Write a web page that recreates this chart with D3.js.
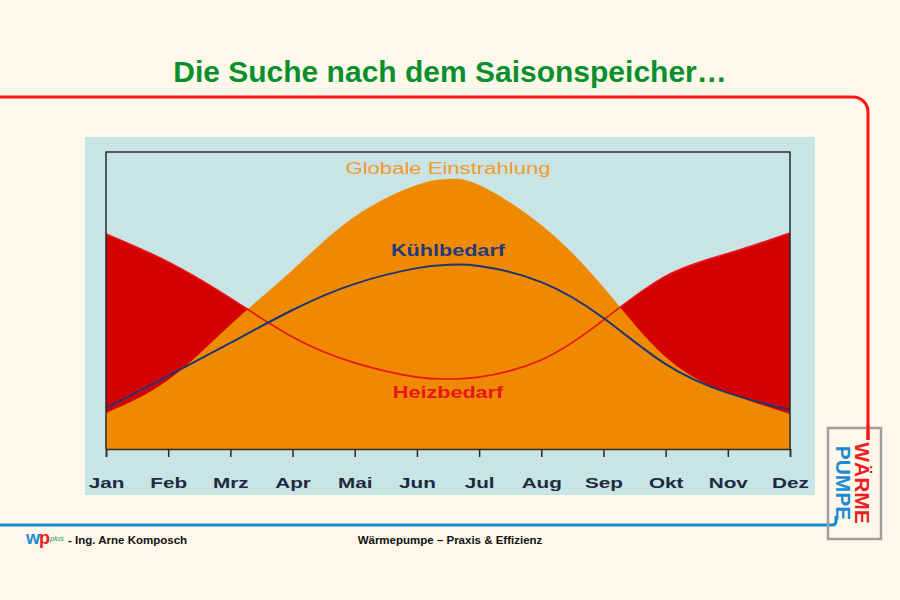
<!DOCTYPE html>
<html><head><meta charset="utf-8">
<script src="https://cdn.jsdelivr.net/npm/d3@7"></script>
<style>html,body{margin:0;padding:0;background:#fdf8ea;}svg{display:block;}</style>
</head><body>
<script>
// ---- data ----
const monthLabels = ["Jan","Feb","Mrz","Apr","Mai","Jun","Jul","Aug","Sep","Okt","Nov","Dez"];
// x positions (month index), incl. mid-June/July extremum point
const xPos        = [0, 1, 2, 3, 4, 5, 5.5, 6, 7, 8, 9, 10, 11];
const einstrahlung = [12.1, 23.2, 41.8, 60.3, 78.3, 88.9, 90.9, 88.9, 75.4, 54.5, 31.0, 18.9, 11.8];
const heizbedarf   = [72.4, 63.0, 50.8, 37.7, 29.0, 24.2, 23.6, 24.2, 30.0, 43.4, 58.2, 65.8, 72.7];
const kuehlbedarf  = [13.8, 24.6, 35.7, 46.8, 55.6, 60.9, 62.0, 61.6, 56.2, 44.1, 28.6, 18.9, 13.1];
const seriesLabels = ["Globale Einstrahlung","Kühlbedarf","Heizbedarf"];
const title = "Die Suche nach dem Saisonspeicher…";

const W = 900, H = 600;
const FONT = "Liberation Sans, Arial, sans-serif";
const svg = d3.select("body").append("svg").attr("width", W).attr("height", H);
svg.append("rect").attr("width", W).attr("height", H).attr("fill", "#fdf8ea");

// title
svg.append("text").attr("x", 450).attr("y", 82).attr("text-anchor", "middle")
  .attr("font-family", FONT).attr("font-weight", "bold")
  .attr("font-size", 30).attr("fill", "#0b8f2d").text(title);

// red frame line
svg.append("path").attr("d", "M0,97 H853 A15,15 0 0 1 868,112 V440")
  .attr("fill", "none").attr("stroke", "#ff1414").attr("stroke-width", 3);

// panel
svg.append("rect").attr("x", 85).attr("y", 137).attr("width", 730).attr("height", 358).attr("fill", "#c9e4e4");

// faint watermark
svg.append("text").attr("x", 18).attr("y", 373).attr("font-family", FONT)
  .attr("font-size", 8).attr("fill", "#ffffff").attr("opacity", 0.8).text("www.kmv.at");

const x = d3.scaleLinear().domain([0, 11]).range([106, 790]);
const y = d3.scaleLinear().domain([0, 100]).range([449, 152]);
const pts = s => xPos.map((v, i) => [v, s[i]]);
const curve = d3.curveNatural;

const area = d3.area().x(d => x(d[0])).y0(y(0)).y1(d => y(d[1])).curve(curve);
const line = d3.line().x(d => x(d[0])).y(d => y(d[1])).curve(curve);

svg.append("path").attr("d", area(pts(heizbedarf))).attr("fill", "#d50000");
svg.append("path").attr("d", area(pts(einstrahlung))).attr("fill", "#ef8a00");
svg.append("path").attr("d", line(pts(heizbedarf))).attr("fill", "none").attr("stroke", "#e8161a").attr("stroke-width", 1.6);
svg.append("path").attr("d", line(pts(kuehlbedarf))).attr("fill", "none").attr("stroke", "#1f3572").attr("stroke-width", 2);

// frame
svg.append("path").attr("d", `M${x(0)},${y(0)} V${y(100)} H${x(11)} V${y(0)}`)
  .attr("fill", "none").attr("stroke", "#2a2a2a").attr("stroke-width", 1.5);

// bottom axis
const axis = svg.append("g").attr("transform", `translate(0,${y(0)})`)
  .call(d3.axisBottom(x).tickValues(d3.range(12)).tickSize(8).tickPadding(26)
    .tickFormat(i => monthLabels[i]));
axis.select(".domain").attr("stroke", "#2a2a2a").attr("stroke-width", 1.5);
axis.selectAll(".tick line").attr("stroke", "#2a2a2a").attr("stroke-width", 1.5);
axis.selectAll(".tick text").attr("font-family", FONT)
  .attr("font-weight", "bold").attr("font-size", 15).attr("fill", "#1e2a44").attr("dy", "0.35em");

function stretch(sel, f) {
  sel.each(function () {
    const len = this.getComputedTextLength();
    d3.select(this).attr("textLength", len * f).attr("lengthAdjust", "spacingAndGlyphs");
  });
}
stretch(axis.selectAll(".tick text"), 1.38);

// series labels
const lab = (t, yy, col, wt) => svg.append("text").attr("x", 448).attr("y", yy).attr("text-anchor", "middle")
  .attr("font-family", FONT).attr("font-weight", wt)
  .attr("font-size", 16).attr("fill", col).text(t);
stretch(lab(seriesLabels[0], 173.5, "#f29a2e", "normal"), 1.38);
stretch(lab(seriesLabels[1], 256, "#1f3a7a", "bold"), 1.35);
stretch(lab(seriesLabels[2], 398, "#e8141a", "bold"), 1.35);

// blue footer line
svg.append("path").attr("d", "M0,525 H832 Q836,525 836,521 V516")
  .attr("fill", "none").attr("stroke", "#1a8ad4").attr("stroke-width", 3);

// logo box
svg.append("rect").attr("x", 828).attr("y", 428).attr("width", 53).attr("height", 111)
  .attr("fill", "none").attr("stroke", "#a0a0a0").attr("stroke-width", 2.5);
svg.append("path").attr("d", "M868,425 V440").attr("stroke", "#ff1414").attr("stroke-width", 3);
svg.append("text").attr("transform", "translate(862,483) rotate(90)").attr("text-anchor", "middle")
  .attr("dominant-baseline", "central").attr("font-family", FONT)
  .attr("font-weight", "bold").attr("font-size", 21).attr("fill", "#ee1c24").text("WÄRME");
svg.append("text").attr("transform", "translate(843,483) rotate(90)").attr("text-anchor", "middle")
  .attr("dominant-baseline", "central").attr("font-family", FONT)
  .attr("font-weight", "bold").attr("font-size", 21).attr("fill", "#1a8ad4").text("PUMPE");

// footer
const wp = svg.append("text").attr("x", 26).attr("y", 544).attr("font-family", FONT)
  .attr("font-weight", "bold").attr("letter-spacing", -1);
wp.append("tspan").attr("font-size", 18).attr("fill", "#1a8ad4").text("w");
wp.append("tspan").attr("font-size", 18).attr("fill", "#ee1c24").text("p");
wp.append("tspan").attr("font-size", 7.5).attr("font-style", "italic").attr("font-weight", "normal")
  .attr("letter-spacing", 0).attr("fill", "#20a040").attr("dx", 1).attr("dy", -3).text("plus");
svg.append("text").attr("x", 68).attr("y", 544).attr("font-family", FONT)
  .attr("font-weight", "bold").attr("font-size", 11.5).attr("fill", "#111").text("- Ing. Arne Komposch");
svg.append("text").attr("x", 450).attr("y", 544).attr("text-anchor", "middle").attr("font-family", FONT)
  .attr("font-weight", "bold").attr("font-size", 11.5).attr("fill", "#111").text("Wärmepumpe – Praxis & Effizienz");
</script>
</body></html>
